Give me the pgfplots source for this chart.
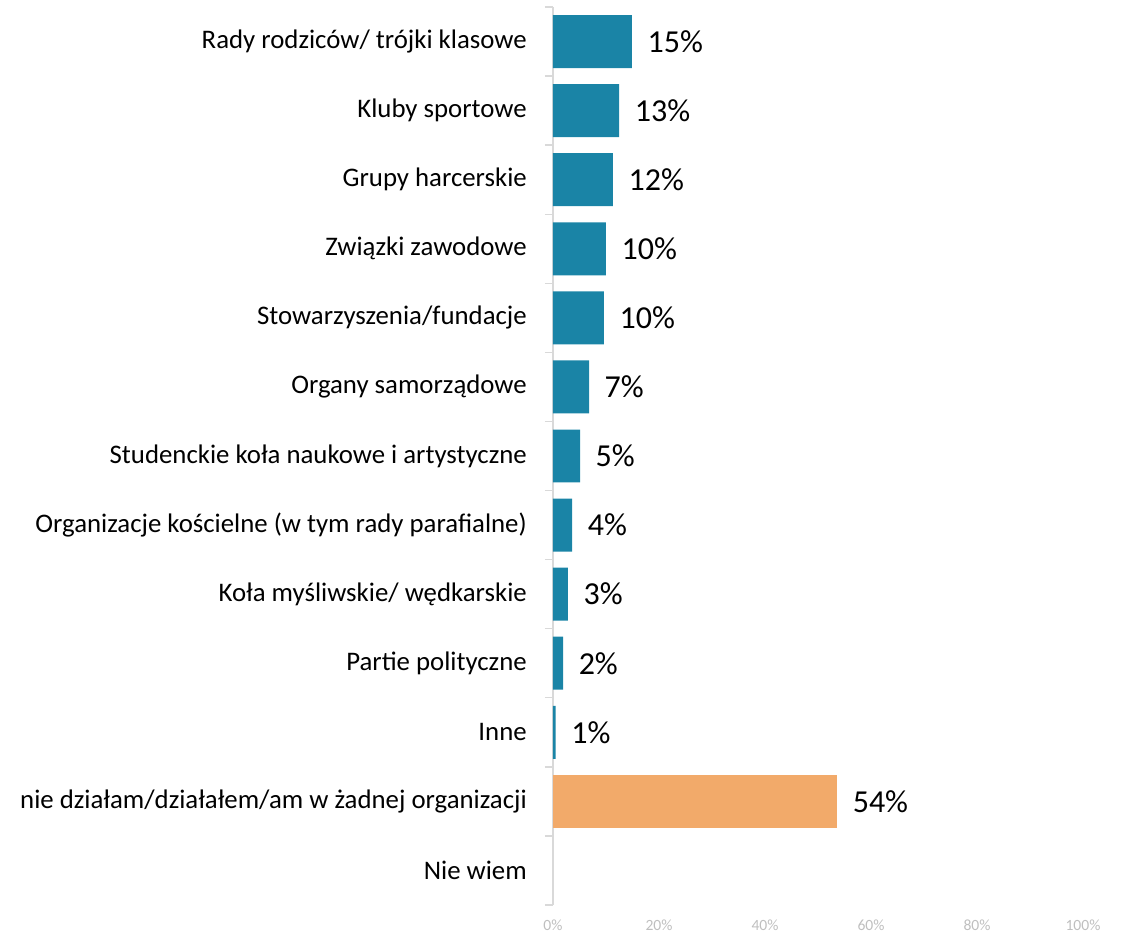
\documentclass[border=0pt]{standalone}
\usepackage{fontspec}
\setmainfont{Carlito}
\usepackage{pgfplots}
\pgfplotsset{compat=1.18}
\definecolor{barblue}{RGB}{26,132,166}
\definecolor{barorange}{RGB}{242,170,106}
\definecolor{tickgray}{RGB}{191,191,191}
\definecolor{linegray}{RGB}{217,217,217}
\begin{document}
\begin{tikzpicture}
\begin{axis}[
  name=ax,
  scale only axis,
  width=397.5pt, height=673.5pt,
  xmin=0, xmax=100,
  ymin=-0.5, ymax=12.5,
  y dir=reverse,
  axis lines*=left,
  x axis line style={draw=none},
  y axis line style={draw=linegray, line width=1pt},
  xtick={0,20,40,60,80,100},
  xticklabel={\pgfmathprintnumber{\tick}\%},
  /pgf/number format/assume math mode=true,
  xticklabel style={font=\fontsize{11.7}{13}\selectfont, text=tickgray, anchor=center, yshift=-15pt},
  ytick={0,1,2,3,4,5,6,7,8,9,10,11,12},
  yticklabels={Rady rodziców/ trójki klasowe, Kluby sportowe, Grupy harcerskie, Związki zawodowe, Stowarzyszenia/fundacje, Organy samorządowe, Studenckie koła naukowe i artystyczne, Organizacje kościelne (w tym rady parafialne), Koła myśliwskie/ wędkarskie, Partie polityczne, Inne, nie działam/działałem/am w żadnej organizacji, Nie wiem},
  yticklabel style={font=\fontsize{20.1}{22}\selectfont, anchor=east, inner sep=0pt, xshift=-19.5pt},
  minor ytick={-0.5,0.5,1.5,2.5,3.5,4.5,5.5,6.5,7.5,8.5,9.5,10.5,11.5,12.5},
  major tick length=0pt,
  minor tick length=6pt,
  tick align=outside,
  minor tick style={draw=linegray, line width=1pt},
  xbar, bar width=0.767, bar shift=0pt,
  point meta=explicit symbolic,
  nodes near coords={\pgfplotspointmeta\%},
  every node near coord/.append style={font=\fontsize{24}{26}\selectfont, anchor=west, xshift=8.25pt, text=black},
  clip=false,
]
\addplot[fill=barblue, draw=none] coordinates {
 (14.9,0) [15]
 (12.5,1) [13]
 (11.3,2) [12]
 (10.0,3) [10]
 (9.6,4) [10]
 (6.8,5) [7]
 (5.1,6) [5]
 (3.6,7) [4]
 (2.8,8) [3]
 (1.9,9) [2]
 (0.5,10) [1]
};
\addplot[fill=barorange, draw=none] coordinates {
 (53.6,11) [54]
};
\end{axis}
\pgfresetboundingbox
\path ([xshift=-414.75pt,yshift=-20.25pt]ax.south west) rectangle ([xshift=426.75pt,yshift=678.75pt]ax.south west);
\end{tikzpicture}
\end{document}
